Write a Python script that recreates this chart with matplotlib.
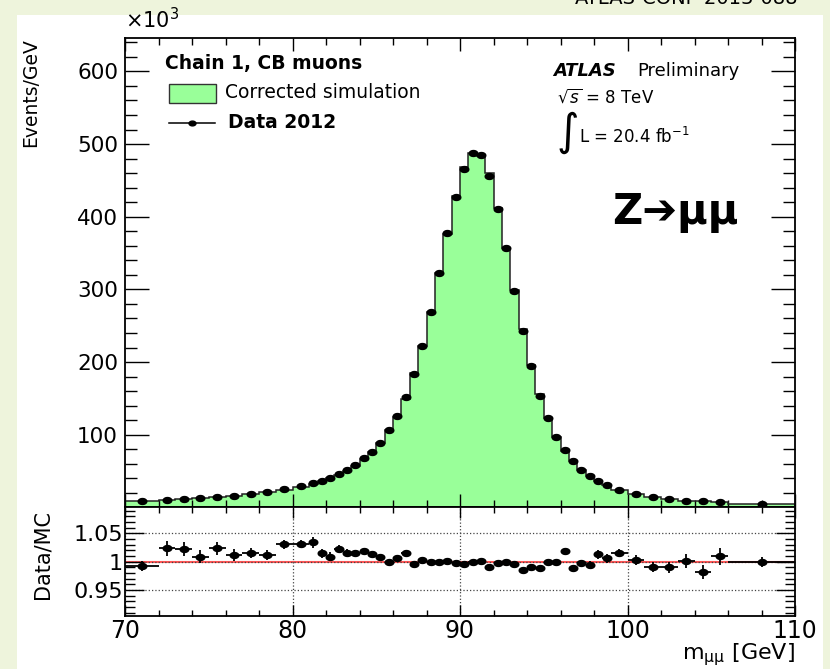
import numpy as np
import matplotlib
matplotlib.use("Agg")
import matplotlib.pyplot as plt
from matplotlib.path import Path
from matplotlib.patches import Rectangle
from matplotlib.lines import Line2D
from matplotlib.ticker import MultipleLocator, FuncFormatter

# ---------------- data (values in 10^3 events / GeV) ----------------
bin_edges = [70, 72, 73, 74, 75, 76, 77, 78, 79, 80, 81,
             81.5, 82, 82.5, 83, 83.5, 84, 84.5, 85, 85.5, 86, 86.5, 87, 87.5,
             88, 88.5, 89, 89.5, 90, 90.5, 91, 91.5, 92, 92.5, 93, 93.5, 94,
             94.5, 95, 95.5, 96, 96.5, 97, 97.5, 98, 98.5, 99,
             100, 101, 102, 103, 104, 105, 106, 110]

data_2012 = [9.0, 10.3, 11.3, 12.7, 14.5, 16.3, 18.6, 20.9, 24.6, 29.2,
             33.8, 36.6, 40.7, 45.3, 51.3, 58.2, 67.3, 76.6, 89.0, 106.0,
             125.5, 151.5, 183.8, 222.5, 268.2, 322.7, 377.0, 427.6, 466.2, 488.3,
             485.0, 456.0, 410.6, 356.3, 297.8, 242.6, 194.3, 153.9, 123.1, 97.3,
             78.9, 63.2, 51.8, 43.0, 36.6, 30.6,
             24.2, 18.6, 14.5, 11.3, 9.4, 8.5, 7.2, 4.4]

corrected_sim = [9.07, 10.06, 11.06, 12.59, 14.17, 16.11, 18.31, 20.65, 23.86, 28.29,
                 32.69, 36.06, 40.34, 44.32, 50.49, 57.34, 66.11, 75.62, 88.21, 106.0,
                 124.75, 149.11, 184.54, 221.83, 268.47, 322.7, 376.6, 428.9, 468.1, 488.3,
                 484.0, 460.6, 411.8, 356.7, 299.0, 246.0, 196.1, 155.6, 123.2, 97.4,
                 77.4, 63.9, 52.0, 43.3, 36.1, 30.4,
                 23.8, 18.5, 14.6, 11.4, 9.4, 8.7, 7.1, 4.4]

ratio = [0.992, 1.0235, 1.022, 1.009, 1.0235, 1.012, 1.016, 1.012, 1.031, 1.032,
         1.034, 1.015, 1.009, 1.022, 1.016, 1.015, 1.018, 1.013, 1.009, 1.000,
         1.006, 1.016, 0.996, 1.003, 0.999, 1.000, 1.001, 0.997, 0.996, 1.000,
         1.002, 0.990, 0.997, 0.999, 0.996, 0.986, 0.991, 0.989, 0.999, 0.999,
         1.019, 0.989, 0.997, 0.994, 1.0135, 1.006,
         1.015, 1.003, 0.991, 0.990, 1.001, 0.982, 1.010, 0.999]

ratio_err = [0.009, 0.013, 0.012, 0.012, 0.011, 0.010, 0.009, 0.009, 0.008, 0.007,
             0.009, 0.008, 0.008, 0.007, 0.007, 0.006, 0.006, 0.005, 0.005, 0.004,
             0.004, 0.004, 0.003, 0.003, 0.003, 0.002, 0.002, 0.002, 0.002, 0.002,
             0.002, 0.002, 0.002, 0.002, 0.003, 0.003, 0.003, 0.004, 0.004, 0.005,
             0.005, 0.006, 0.006, 0.007, 0.008, 0.008,
             0.007, 0.008, 0.009, 0.010, 0.012, 0.013, 0.015, 0.009]

x_ticks = [70, 80, 90, 100, 110]

# ---------------- figure ----------------
W, H = 830, 669
fig = plt.figure(figsize=(W / 100, H / 100), dpi=100)
fig.patch.set_facecolor("#eef4dc")
fig.patches.append(Rectangle((17 / W, 0), (823 - 17) / W, 1 - 15 / H,
                             transform=fig.transFigure, facecolor="white",
                             edgecolor="none", zorder=-10))

fig.text(575 / W, 1.0 + 1 / H, "ATLAS-CONF-2013-088", fontsize=14,
         ha="left", va="center", color="black")

L, R = 125, 795
ax = fig.add_axes([L / W, 1 - 507 / H, (R - L) / W, (507 - 38) / H])
axr = fig.add_axes([L / W, 1 - 616 / H, (R - L) / W, (616 - 507) / H])

edges = np.array(bin_edges)
centers = 0.5 * (edges[1:] + edges[:-1])
halfw = 0.5 * (edges[1:] - edges[:-1])

t = np.linspace(0, 2 * np.pi, 40)
ell = Path(np.column_stack([1.45 * np.cos(t), np.sin(t)]), closed=True)

green = "#99ff99"
ax.stairs(corrected_sim, edges, fill=True, color=green, baseline=0, zorder=1)
ax.stairs(corrected_sim, edges, color="#222222", lw=1.1, baseline=0, zorder=2)
ax.plot(centers, data_2012, ls="none", marker=ell, ms=6.2, color="black", zorder=3)

ax.set_xlim(70, 110)
ax.set_ylim(0.5, 646)
ax.xaxis.set_major_locator(MultipleLocator(10))
ax.xaxis.set_minor_locator(MultipleLocator(2))
ax.yaxis.set_major_locator(MultipleLocator(100))
ax.yaxis.set_minor_locator(MultipleLocator(20))
ax.tick_params(axis="both", which="both", direction="in", top=True, right=True,
               width=1.0, color="black")
ax.tick_params(axis="x", which="major", length=9.5)
ax.tick_params(axis="x", which="minor", length=5)
ax.tick_params(axis="y", which="major", length=17)
ax.tick_params(axis="y", which="minor", length=8.5)
ax.tick_params(axis="x", labelbottom=False)
ax.tick_params(axis="y", labelsize=15.5, pad=5)
for s in ax.spines.values():
    s.set_linewidth(1.3)

ax.set_ylabel("Events/GeV", fontsize=13.5, loc="top")
ax.yaxis.set_label_coords((40 - L) / (R - L), 1.0)
ax.text(0.0, 1.012, r"$\times10^{3}$", transform=ax.transAxes, fontsize=15,
        ha="left", va="bottom")

# legend drawn as in the ROOT style
ax.text((165 - L) / (R - L), (507 - 63) / 469, "Chain 1, CB muons", transform=ax.transAxes,
        fontsize=13.5, fontweight="bold", ha="left", va="center")
ax.add_patch(Rectangle(((169 - L) / (R - L), (507 - 103) / 469), 47 / (R - L), 19 / 469,
                       transform=ax.transAxes, facecolor=green, edgecolor="#333333", lw=1.0))
ax.text((225 - L) / (R - L), (507 - 93) / 469, "Corrected simulation", transform=ax.transAxes,
        fontsize=13.5, ha="left", va="center")
ax.add_line(Line2D([(169 - L) / (R - L), (215 - L) / (R - L)], [(507 - 123) / 469] * 2,
                   transform=ax.transAxes, color="black", lw=1.1))
ax.add_line(Line2D([(192 - L) / (R - L)], [(507 - 123) / 469], transform=ax.transAxes,
                   marker=ell, ms=5, color="black"))
ax.text((228 - L) / (R - L), (507 - 123) / 469, "Data 2012", transform=ax.transAxes,
        fontsize=13.5, fontweight="bold", ha="left", va="center")

# ATLAS labels
ax.text((553 - L) / (R - L), (507 - 71) / 469, "ATLAS", transform=ax.transAxes,
        fontsize=13, fontweight="bold", fontstyle="italic", ha="left", va="center")
ax.text((637 - L) / (R - L), (507 - 71) / 469, "Preliminary", transform=ax.transAxes,
        fontsize=13, ha="left", va="center")
ax.text((557 - L) / (R - L), (507 - 97) / 469, r"$\sqrt{s}$ = 8 TeV", transform=ax.transAxes,
        fontsize=12, ha="left", va="center")
ax.text((556 - L) / (R - L), (507 - 133) / 469, r"$\int$", transform=ax.transAxes,
        fontsize=22, ha="left", va="center")
ax.text((579 - L) / (R - L), (507 - 137) / 469, r"L = 20.4 fb$^{-1}$", transform=ax.transAxes,
        fontsize=12, ha="left", va="center")
ax.text((612 - L) / (R - L), (507 - 212) / 469, "Z\u2794\u03bc\u03bc", transform=ax.transAxes,
        fontsize=30, fontweight="bold", ha="left", va="center")

# ---------------- ratio panel ----------------
axr.axhline(1.0, color="#ff5555", lw=1.5, zorder=1)
axr.errorbar(centers, ratio, xerr=halfw, yerr=ratio_err, fmt="none", ecolor="black",
             elinewidth=1.3, capsize=0, zorder=3)
axr.plot(centers, ratio, ls="none", marker=ell, ms=6.2, color="black", zorder=4)
axr.set_xlim(70, 110)
axr.set_ylim(0.9042, 1.0965)
axr.set_xticks(x_ticks)
axr.xaxis.set_minor_locator(MultipleLocator(2))
axr.yaxis.set_major_locator(MultipleLocator(0.05))
axr.yaxis.set_minor_locator(MultipleLocator(0.01))
axr.yaxis.set_major_formatter(FuncFormatter(lambda v, p: "%g" % round(v, 3)))
axr.grid(True, which="major", ls=":", color="#444444", lw=0.9)
axr.tick_params(axis="both", which="both", direction="in", top=True, right=True,
                width=1.0, color="black")
axr.tick_params(axis="x", which="major", length=8, labelsize=17, pad=2)
axr.tick_params(axis="x", which="minor", length=4)
axr.tick_params(axis="y", which="major", length=14, labelsize=16, pad=1.5)
axr.tick_params(axis="y", which="minor", length=7)
for s in axr.spines.values():
    s.set_linewidth(1.3)
axr.set_ylabel("Data/MC", fontsize=15)
axr.yaxis.set_label_coords((52 - L) / (R - L), 0.56)
axr.set_xlabel("m$_{\\mathrm{\u03bc\u03bc}}$ [GeV]", fontsize=16, loc="right", labelpad=-1)

fig.savefig("out.png", dpi=100, facecolor=fig.get_facecolor())
